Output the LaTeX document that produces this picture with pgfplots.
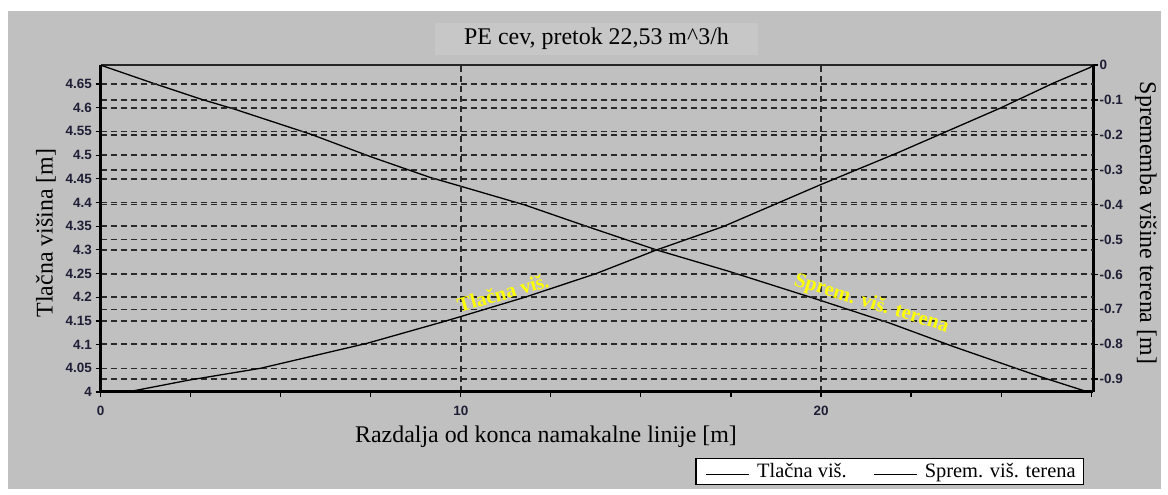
\documentclass[border=0pt]{standalone}
\usepackage{pgfplots}
\pgfplotsset{compat=1.18}
\usepackage{fontspec}
\setmainfont{Liberation Serif}
\newfontfamily\ticksf{Liberation Sans}
\definecolor{bggray}{HTML}{C0C0C0}
\definecolor{boxgray}{HTML}{C7C7C7}
\definecolor{gridc}{HTML}{2A2A2A}
\definecolor{tickc}{HTML}{1E1E36}
\definecolor{lblyellow}{HTML}{FFFF00}

\pgfplotstableread{
x y
0 4.000
0.75 4.000
2.45 4.025
4.44 4.050
7.41 4.103
9.50 4.148
9.99 4.159
11.78 4.200
13.76 4.250
15.44 4.300
17.28 4.349
19.97 4.437
22.10 4.504
24.97 4.599
26.45 4.652
27.47 4.685
27.55 4.690
}\tlacna

\pgfplotstableread{
x y
0 0
1.46 -0.052
2.80 -0.098
3.74 -0.127
5.83 -0.198
7.51 -0.263
9.15 -0.322
9.99 -0.347
11.78 -0.401
13.46 -0.461
15.44 -0.530
17.47 -0.592
19.97 -0.674
21.92 -0.740
23.68 -0.807
26.08 -0.893
27.38 -0.936
27.55 -0.937
}\sprem

\pgfplotsset{
  common/.style={
    scale only axis, width=992.5bp, height=326.9bp,
    at={(100.5bp,103bp)}, anchor=south west,
    xmin=0, xmax=27.55,
    tick align=outside,
    major tick length=5bp, minor tick length=5bp,
    tick style={line width=1.2bp, color=black},
    tick label style={font=\ticksf\bfseries\fontsize{13.5}{14}\selectfont, text=tickc, inner sep=0pt},
    /pgf/number format/assume math mode=true,
    major grid style={line width=1.6bp, color=gridc, dash pattern=on 6bp off 4bp},
  }
}

\begin{document}
\begin{tikzpicture}[x=1bp,y=1bp]
\path[use as bounding box] (0,0) rectangle (1168,495);
\fill[white] (0,0) rectangle (1168,495);
\fill[bggray] (8,6) rectangle (1161,484);
\node[fill=boxgray, minimum width=323bp, minimum height=32bp, inner sep=0pt,
      font=\fontsize{24}{24}\selectfont] at (596.5,456) {PE cev, pretok 22,53 m\^{}3/h};
\node[rotate=90, font=\fontsize{24}{24}\selectfont] at (46,262) {Tlačna višina [m]};
\node[rotate=-90, font=\fontsize{24}{24}\selectfont] at (1146,272) {Sprememba višine terena [m]};
\node[font=\fontsize{24}{24}\selectfont] at (546,58) {Razdalja od konca namakalne linije [m]};

% right axis: terrain change
\begin{axis}[common,
  ymin=-0.937, ymax=0,
  axis x line*=top, axis y line*=right,
  x axis line style={line width=1.3bp, color=black!85},
  y axis line style={line width=3bp},
  xtick=\empty,
  ytick={0,-0.1,-0.2,-0.3,-0.4,-0.5,-0.6,-0.7,-0.8,-0.9},
  yticklabels={0,-0.1,-0.2,-0.3,-0.4,-0.5,-0.6,-0.7,-0.8,-0.9},
  yticklabel style={xshift=1.5bp},
  ymajorgrids,
]
\addplot[black, line width=1.3bp, sharp plot] table[x=x,y=y]{\sprem};
\end{axis}

% left axis: pressure head
\begin{axis}[common,
  ymin=4, ymax=4.69,
  axis x line*=bottom, axis y line*=left,
  x axis line style={line width=3bp},
  y axis line style={line width=2.5bp},
  xtick={0,10,20},
  minor xtick={2.5,5,7.5,12.5,15,17.5,22.5,25,27.5},
  ytick={4,4.05,4.1,4.15,4.2,4.25,4.3,4.35,4.4,4.45,4.5,4.55,4.6,4.65},
  yticklabels={4,4.05,4.1,4.15,4.2,4.25,4.3,4.35,4.4,4.45,4.5,4.55,4.6,4.65},
  yticklabel style={xshift=-3.5bp},
  xticklabel style={yshift=-9bp},
  xmajorgrids, ymajorgrids,
  legend style={at={(0.5994,-0.2019)}, anchor=north west, draw=black, line width=1.5bp,
    fill=white, inner xsep=6bp, inner ysep=3bp,
    font=\fontsize{20.5}{21}\selectfont,
    nodes={inner sep=2bp}},
  legend columns=2,
  /tikz/every even column/.append style={column sep=21bp},
  legend image code/.code={\path[draw=none,fill=none] (0bp,0bp) -- (53bp,0bp); \draw[line width=1.3bp, black] (4bp,-3bp) -- (47bp,-3bp);},
]
\addplot[black, line width=1.3bp, sharp plot] table[x=x,y=y]{\tlacna};
\addlegendentry{Tlačna viš.}
\addlegendimage{black, line width=1.3bp}
\addlegendentry{Sprem. viš. terena\hspace{7bp}}
\node[rotate=16, text=lblyellow, font=\bfseries\fontsize{20.5}{21}\selectfont] at (axis cs:11.17,4.209) {Tlačna viš.};
\node[rotate=-17, text=lblyellow, font=\bfseries\fontsize{20.5}{21}\selectfont] at (axis cs:21.4,4.186) {Sprem. viš. terena};
\end{axis}
\end{tikzpicture}
\end{document}
